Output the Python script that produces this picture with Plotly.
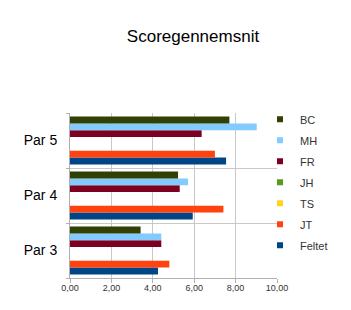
import plotly.graph_objects as go

categories = ["Par 3", "Par 4", "Par 5"]
series_names = ["Feltet", "JT", "TS", "JH", "FR", "MH", "BC"]
feltet = [4.25, 5.93, 7.54]
jt = [4.80, 7.41, 7.00]
ts = [None, None, None]
jh = [None, None, None]
fr = [4.41, 5.30, 6.36]
mh = [4.41, 5.70, 9.02]
bc = [3.41, 5.22, 7.70]
colors = ["#004586", "#ff420e", "#ffd320", "#579d1c", "#7e0021", "#83caff", "#314004"]
x_ticks = [0, 2, 4, 6, 8, 10]

values = [feltet, jt, ts, jh, fr, mh, bc]

fig = go.Figure()
n = len(series_names)
for i, (name, vals, col) in enumerate(zip(series_names, values, colors)):
    fig.add_trace(go.Bar(
        y=categories, x=vals, name=name, orientation="h",
        marker=dict(color=col, line=dict(width=0)),
        showlegend=False, legendgroup=name,
    ))
# legend entries (small square keys), ordered top-down like the reference
for i, (name, col) in enumerate(zip(series_names, colors)):
    fig.add_trace(go.Scatter(
        x=[None], y=[None], mode="markers", name=name,
        marker=dict(symbol="square", size=6, color=col,
                    line=dict(width=0)),
        legendgroup=name, legendrank=n - i,
    ))

fig.update_layout(
    width=351, height=310,
    margin=dict(l=70, r=74, t=113, b=32, autoexpand=False),
    paper_bgcolor="white", plot_bgcolor="white",
    barmode="group", bargap=0.13, bargroupgap=0,
    separators=",.",
    font=dict(family="Liberation Sans, Arial, sans-serif", color="#222"),
    title=dict(text="Scoregennemsnit", x=193 / 351, xref="container", xanchor="center",
               y=1 - 36 / 310, yref="container", yanchor="middle",
               font=dict(size=17, color="#000")),
    legend=dict(x=1.0 + (260 - 277) / 207, xanchor="left",
                y=1.05, yanchor="top", maxheight=280,
                traceorder="grouped", tracegroupgap=2,
                font=dict(size=11, color="#333"), itemwidth=30,
                bgcolor="rgba(0,0,0,0)"),
    showlegend=True,
)
fig.update_xaxes(range=[0, 10], tickvals=x_ticks, tickformat=".2f",
                 showgrid=True, gridcolor="#c8c8c8", gridwidth=1,
                 showline=True, linecolor="#b0b0b0", ticks="outside",
                 ticklen=4, tickcolor="#b0b0b0", ticklabelstandoff=-3,
                 tickfont=dict(size=9, color="#333"), zeroline=False)
fig.update_yaxes(tickson="boundaries", showgrid=True, gridcolor="#c8c8c8",
                 showline=True, linecolor="#b0b0b0", ticks="outside",
                 ticklen=3, tickcolor="#b0b0b0", ticklabelstandoff=9,
                 tickfont=dict(size=14, color="#000"))

fig.write_html("out.html")
